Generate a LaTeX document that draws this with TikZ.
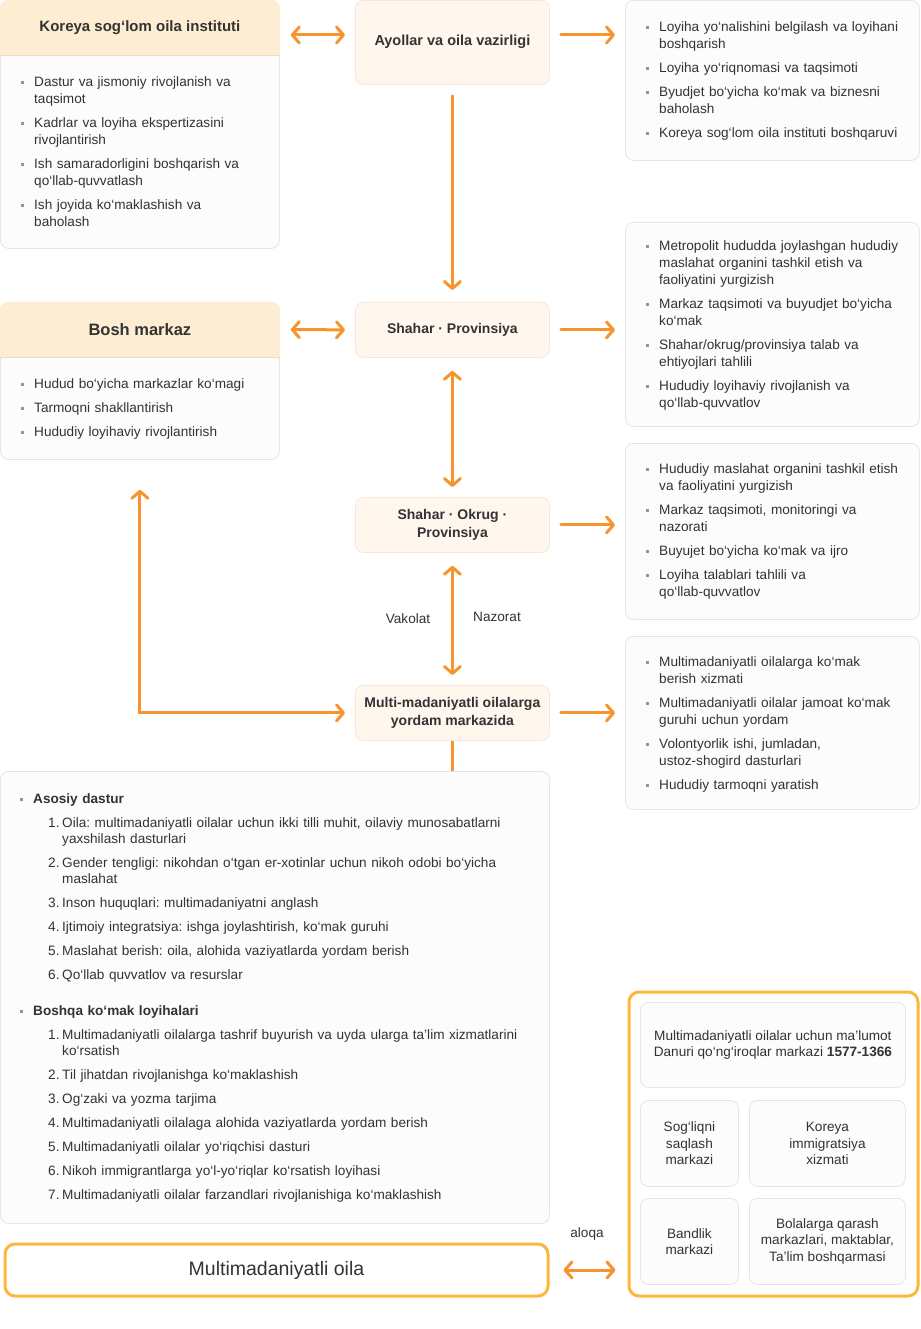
\documentclass[tikz,border=0pt]{standalone}
\usepackage{fontspec}
\setmainfont{Liberation Sans}
\usetikzlibrary{arrows.meta,positioning,calc}

\definecolor{arrorange}{HTML}{F7942E}
\definecolor{yelline}{HTML}{FDB73C}
\definecolor{headfill}{HTML}{FDEDD3}
\definecolor{headline}{HTML}{F3DCB8}
\definecolor{midfill}{HTML}{FFF6EE}
\definecolor{midline}{HTML}{F6E7D8}
\definecolor{boxfill}{HTML}{FCFCFC}
\definecolor{boxline}{HTML}{E5E5E5}
\definecolor{txtgray}{HTML}{333333}
\definecolor{bulgray}{HTML}{9C928B}

\frenchspacing
\newlength{\bulgap}
\setlength{\bulgap}{7pt}
\newcommand{\bul}[1]{\par\noindent\strut\llap{\textcolor{bulgray}{\rule[2.3pt]{3pt}{3pt}}\hspace{10pt}}#1\par\vspace{\bulgap}}
\newcommand{\numi}[2]{\par{\leftskip=29pt\noindent\strut\llap{\makebox[14pt][l]{#1}}#2\par}\vspace{\bulgap}}
\newcommand{\tophead}[2]{%
  \begin{scope}
    \clip[rounded corners=8pt] (#1.north west) rectangle (#1.south east);
    \fill[headfill] (#1.north west) rectangle ([yshift=-#2]#1.north east);
  \end{scope}
  \draw[headline, line width=0.8pt] ([yshift=-#2]#1.north west) -- ([yshift=-#2]#1.north east);
}

\tikzset{
  box/.style={draw=boxline, fill=boxfill, line width=0.8pt, rounded corners=8pt, anchor=north west, inner sep=0pt},
  midbox/.style={draw=midline, fill=midfill, line width=0.8pt, rounded corners=8pt, anchor=north west, inner sep=0pt, align=center, font=\fontsize{14}{18}\selectfont\bfseries},
  yelbox/.style={draw=yelline, fill=white, line width=3pt, rounded corners=10pt, anchor=north west, inner sep=0pt},
  smallbox/.style={draw=boxline, fill=boxfill, line width=0.8pt, rounded corners=8pt, anchor=north west, inner sep=0pt, align=center, font=\fontsize{13.6}{16.5}\selectfont},
  listtxt/.style={anchor=north west, inner sep=0pt, align=left, font=\fontsize{13.6}{17}\selectfont},
  headtxt/.style={inner sep=0pt, font=\fontsize{15}{18}\selectfont\bfseries},
  lbl/.style={inner sep=0pt, font=\fontsize{13.6}{16}\selectfont},
  arr/.style={draw=arrorange, line width=3pt, line cap=round, -{Straight Barb[length=7pt,width=16pt,round]}, shorten <=11pt, shorten >=10pt},
  biarr/.style={arr, {Straight Barb[length=7pt,width=16pt,round]}-{Straight Barb[length=7pt,width=16pt,round]}},
  every node/.append style={text=txtgray}
}

\begin{document}
\begin{tikzpicture}[x=1pt,y=-1pt]
\fill[white] (0,0) rectangle (920,1329);
\useasboundingbox (0,0) rectangle (920,1329);

% left column
\node[box, minimum width=279, minimum height=248] (ksoi) at (0,0) {};
\tophead{ksoi}{55pt}
\node[headtxt] (ksoihead) at ([yshift=-27.5pt]ksoi.north) {Koreya sog‘lom oila instituti};
\node[listtxt, text width=240] (ksoitxt) at (34,69) {%
  \bul{Dastur va jismoniy rivojlanish va\newline taqsimot}
  \bul{Kadrlar va loyiha ekspertizasini\newline rivojlantirish}
  \bul{Ish samaradorligini boshqarish va\newline qo‘llab-quvvatlash}
  \bul{Ish joyida ko‘maklashish va\newline baholash}};

\node[box, minimum width=279, minimum height=157] (bosh) at (0,302) {};
\tophead{bosh}{55pt}
\node[headtxt, font=\fontsize{16.5}{20}\selectfont\bfseries] (boshhead) at ([yshift=-27.5pt]bosh.north) {Bosh markaz};
\node[listtxt, text width=240] (boshtxt) at (34,371) {%
  \bul{Hudud bo‘yicha markazlar ko‘magi}
  \bul{Tarmoqni shakllantirish}
  \bul{Hududiy loyihaviy rivojlantirish}};

% middle column
\node[midbox, minimum width=194, minimum height=84, font=\fontsize{14.5}{18}\selectfont\bfseries] (ayollar) at (355,0) {\raisebox{4pt}{Ayollar va oila vazirligi}};
\node[midbox, minimum width=194, minimum height=55] (shprov) at (355,302) {Shahar · Provinsiya};
\node[midbox, minimum width=194, minimum height=55] (okrug) at (355,497) {Shahar · Okrug ·\\Provinsiya};
\node[midbox, minimum width=194, minimum height=55] (multi) at (355,685) {Multi-madaniyatli oilalarga\\yordam markazida};

% right column
\node[box, minimum width=294, minimum height=160] (r1) at (625,0) {};
\node[listtxt, text width=250] (r1txt) at (659,14) {%
  \bul{Loyiha yo‘nalishini belgilash va loyihani\newline boshqarish}
  \bul{Loyiha yo‘riqnomasi va taqsimoti}
  \bul{Byudjet bo‘yicha ko‘mak va biznesni\newline baholash}
  \bul{Koreya sog‘lom oila instituti boshqaruvi}};

\node[box, minimum width=294, minimum height=204] (r2) at (625,222) {};
\node[listtxt, text width=250] (r2txt) at (659,233) {%
  \bul{Metropolit hududda joylashgan hududiy\newline maslahat organini tashkil etish va\newline faoliyatini yurgizish}
  \bul{Markaz taqsimoti va buyudjet bo‘yicha\newline ko‘mak}
  \bul{Shahar/okrug/provinsiya talab va\newline ehtiyojlari tahlili}
  \bul{Hududiy loyihaviy rivojlanish va\newline qo‘llab-quvvatlov}};

\node[box, minimum width=294, minimum height=176] (r3) at (625,443) {};
\node[listtxt, text width=250] (r3txt) at (659,456) {%
  \bul{Hududiy maslahat organini tashkil etish\newline va faoliyatini yurgizish}
  \bul{Markaz taqsimoti, monitoringi va\newline nazorati}
  \bul{Buyujet bo‘yicha ko‘mak va ijro}
  \bul{Loyiha talablari tahlili va\newline qo‘llab-quvvatlov}};

\node[box, minimum width=294, minimum height=173] (r4) at (625,636) {};
\node[listtxt, text width=250] (r4txt) at (659,649) {%
  \bul{Multimadaniyatli oilalarga ko‘mak\newline berish xizmati}
  \bul{Multimadaniyatli oilalar jamoat ko‘mak\newline guruhi uchun yordam}
  \bul{Volontyorlik ishi, jumladan,\newline ustoz-shogird dasturlari}
  \bul{Hududiy tarmoqni yaratish}};

% programs
\node[box, minimum width=549, minimum height=452] (dastur) at (0,771) {};
\node[listtxt, text width=508, font=\fontsize{13.6}{16}\selectfont] (dasturtxt) at (33,787) {%
  \setlength{\bulgap}{8pt}%
  \bul{\textbf{Asosiy dastur}}
  \numi{1.}{Oila: multimadaniyatli oilalar uchun ikki tilli muhit, oilaviy munosabatlarni\newline yaxshilash dasturlari}
  \numi{2.}{Gender tengligi: nikohdan o‘tgan er-xotinlar uchun nikoh odobi bo‘yicha\newline maslahat}
  \numi{3.}{Inson huquqlari: multimadaniyatni anglash}
  \numi{4.}{Ijtimoiy integratsiya: ishga joylashtirish, ko‘mak guruhi}
  \numi{5.}{Maslahat berish: oila, alohida vaziyatlarda yordam berish}
  \numi{6.}{Qo‘llab quvvatlov va resurslar}
  \vspace{12pt}
  \bul{\textbf{Boshqa ko‘mak loyihalari}}
  \numi{1.}{Multimadaniyatli oilalarga tashrif buyurish va uyda ularga ta’lim xizmatlarini\newline ko‘rsatish}
  \numi{2.}{Til jihatdan rivojlanishga ko‘maklashish}
  \numi{3.}{Og‘zaki va yozma tarjima}
  \numi{4.}{Multimadaniyatli oilalaga alohida vaziyatlarda yordam berish}
  \numi{5.}{Multimadaniyatli oilalar yo‘riqchisi dasturi}
  \numi{6.}{Nikoh immigrantlarga yo‘l-yo‘riqlar ko‘rsatish loyihasi}
  \numi{7.}{Multimadaniyatli oilalar farzandlari rivojlanishiga ko‘maklashish}};

% bottom
\node[yelbox, minimum width=543, minimum height=52, font=\fontsize{19.5}{22}\selectfont] (oila) at (3.5,1242.5) {Multimadaniyatli oila};
\node[yelbox, minimum width=289, minimum height=304] (contacts) at (627.5,990.5) {};
\node[smallbox, minimum width=265, minimum height=85] (danuri) at (640,1002) {Multimadaniyatli oilalar uchun ma’lumot\\Danuri qo‘ng‘iroqlar markazi \textbf{1577-1366}};
\node[smallbox, minimum width=98, minimum height=86] (health) at (640,1100) {Sog‘liqni\\saqlash\\markazi};
\node[smallbox, minimum width=156, minimum height=86] (immig) at (749,1100) {Koreya\\immigratsiya\\xizmati};
\node[smallbox, minimum width=98, minimum height=86] (jobs) at (640,1198) {Bandlik\\markazi};
\node[smallbox, minimum width=156, minimum height=86] (school) at (749,1198) {Bolalarga qarash\\markazlari, maktablar,\\Ta’lim boshqarmasi};

% labels
\node[lbl] (vakolat) at (408,619) {Vakolat};
\node[lbl] (nazorat) at (497,617) {Nazorat};
\node[lbl] (aloqa) at (587,1234) {aloqa};

% connectors
\draw[biarr] ([yshift=-35pt]ksoi.north east) -- ([yshift=-35pt]ksoi.north east -| ayollar.west);
\draw[arr] ([yshift=-35pt]ayollar.north east) -- ([yshift=-35pt]ayollar.north east -| r1.west);
\draw[arr, shorten >=12pt] (ayollar.south) -- (shprov.north);
\draw[biarr] ([yshift=-27.5pt]bosh.north east) -- (shprov.west);
\draw[arr] (shprov.east) -- (shprov.east -| r2.west);
\draw[biarr, shorten <=13pt] (shprov.south) -- (okrug.north);
\draw[arr] (okrug.east) -- (okrug.east -| r3.west);
\draw[biarr, shorten <=13pt] (okrug.south) -- (multi.north);
\draw[arr] (multi.east) -- (multi.east -| r4.west);
\draw[biarr, shorten <=30pt] (bosh.south) |- (multi.west);
\draw[arrorange, line width=3pt] (multi.south) -- (multi.south |- dastur.north);
\draw[biarr, shorten <=14pt, shorten >=12pt] (oila.east) -- (oila.east -| contacts.west);
\end{tikzpicture}
\end{document}
